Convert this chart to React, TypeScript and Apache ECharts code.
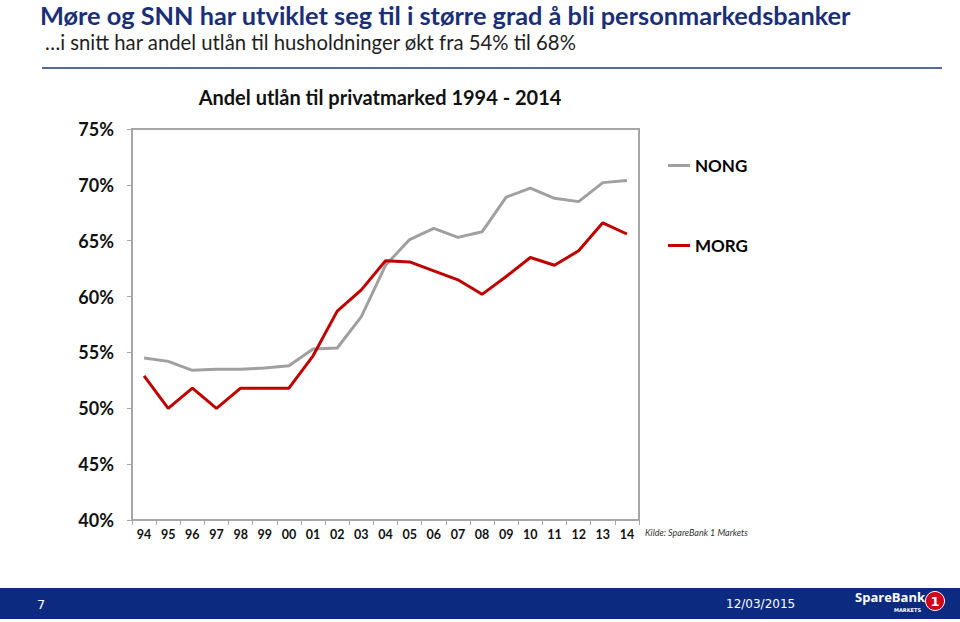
import React, { useEffect, useRef } from "react";
import * as echarts from "echarts";

const years = ["94", "95", "96", "97", "98", "99", "00", "01", "02", "03", "04", "05", "06", "07", "08", "09", "10", "11", "12", "13", "14"];
const nong = [54.5, 54.2, 53.4, 53.5, 53.5, 53.6, 53.8, 55.3, 55.4, 58.2, 62.8, 65.1, 66.1, 65.3, 65.8, 68.9, 69.7, 68.8, 68.5, 70.2, 70.4];
const morg = [52.9, 50.0, 51.8, 50.0, 51.8, 51.8, 51.8, 54.7, 58.7, 60.6, 63.2, 63.1, 62.3, 61.5, 60.2, 61.8, 63.5, 62.8, 64.1, 66.6, 65.6];
const yTicks = [40, 45, 50, 55, 60, 65, 70, 75];

const FONT = "Lato, 'Open Sans', sans-serif";
const NAVY = "#0c2b80";

export default function App() {
  const ref = useRef<HTMLDivElement>(null);
  useEffect(() => {
    if (!ref.current) return;
    const chart = echarts.init(ref.current, undefined, { renderer: "svg" });
    chart.setOption({
      animation: false,
      backgroundColor: "#ffffff",
      textStyle: { fontFamily: FONT },
      grid: {
        left: 132,
        top: 129,
        width: 507,
        height: 391,
        show: true,
        borderColor: "#a6a6a6",
        borderWidth: 2,
        containLabel: false,
      },
      xAxis: {
        type: "category",
        data: years,
        boundaryGap: true,
        axisLine: { lineStyle: { color: "#a6a6a6", width: 2 } },
        axisTick: { show: true, length: 5, lineStyle: { color: "#a6a6a6" } },
        axisLabel: { interval: 0, margin: 8, fontSize: 12.5, fontWeight: "bold", color: "#111", fontFamily: FONT },
        splitLine: { show: false },
      },
      yAxis: {
        type: "value",
        min: yTicks[0],
        max: yTicks[yTicks.length - 1],
        interval: 5,
        axisLine: { show: true, lineStyle: { color: "#a6a6a6", width: 2 } },
        axisTick: { show: true, length: 5, lineStyle: { color: "#a6a6a6" } },
        axisLabel: { formatter: "{value}%", margin: 18, fontSize: 18, fontWeight: "bold", color: "#111", fontFamily: FONT },
        splitLine: { show: false },
      },
      legend: {
        orient: "vertical",
        left: 668,
        top: 157,
        padding: 0,
        itemWidth: 22,
        itemHeight: 3,
        itemGap: 63,
        icon: "rect",
        data: [
          { name: "NONG", itemStyle: { color: "#a0a0a0" } },
          { name: "MORG", itemStyle: { color: "#c00000" } },
        ],
        textStyle: { fontSize: 17, fontWeight: "bold", color: "#000", fontFamily: FONT },
      },
      series: [
        {
          name: "NONG",
          type: "line",
          data: nong,
          symbol: "none",
          lineStyle: { color: "#a0a0a0", width: 3 },
          itemStyle: { color: "#a0a0a0" },
        },
        {
          name: "MORG",
          type: "line",
          data: morg,
          symbol: "none",
          lineStyle: { color: "#c00000", width: 3 },
          itemStyle: { color: "#c00000" },
        },
      ],
      graphic: [
        {
          type: "text",
          x: 40,
          y: 14.5,
          style: { text: "Møre og SNN har utviklet seg til i større grad å bli personmarkedsbanker", font: `bold 25.3px ${FONT}`, fill: "#1a2f78", verticalAlign: "middle", align: "left" },
        },
        {
          type: "text",
          x: 45,
          y: 42,
          style: { text: "…i snitt har andel utlån til husholdninger økt fra 54% til 68%", font: `20.3px ${FONT}`, fill: "#1e1e1e", verticalAlign: "middle", align: "left" },
        },
        {
          type: "line",
          shape: { x1: 42, y1: 68, x2: 942, y2: 68 },
          style: { stroke: "#1f3a7a", lineWidth: 1.5 },
        },
        {
          type: "text",
          x: 380,
          y: 97,
          style: { text: "Andel utlån til privatmarked 1994 - 2014", font: `bold 20px ${FONT}`, fill: "#111", verticalAlign: "middle", align: "center" },
        },
        {
          type: "text",
          x: 645,
          y: 532,
          style: { text: "Kilde: SpareBank 1 Markets", font: `italic 9px ${FONT}`, fill: "#333", verticalAlign: "middle", align: "left" },
        },
        {
          type: "rect",
          shape: { x: 0, y: 588, width: 960, height: 31 },
          style: { fill: NAVY },
        },
        {
          type: "text",
          x: 37,
          y: 604,
          style: { text: "7", font: `13px 'DejaVu Sans', sans-serif`, fill: "#ffffff", verticalAlign: "middle", align: "left" },
        },
        {
          type: "text",
          x: 726,
          y: 604,
          style: { text: "12/03/2015", font: `12px 'DejaVu Sans', sans-serif`, fill: "#ffffff", verticalAlign: "middle", align: "left" },
        },
        {
          type: "text",
          x: 855,
          y: 597,
          style: { text: "SpareBank", font: `bold 13px 'Open Sans', sans-serif`, fill: "#ffffff", verticalAlign: "middle", align: "left" },
        },
        {
          type: "text",
          x: 921,
          y: 610,
          style: { text: "MARKETS", font: `bold 5px 'DejaVu Sans', sans-serif`, fill: "#ffffff", verticalAlign: "middle", align: "right" },
        },
        {
          type: "circle",
          shape: { cx: 935, cy: 601, r: 9.5 },
          style: { fill: "#d0021b", stroke: "#ffffff", lineWidth: 1 },
        },
        {
          type: "text",
          x: 935,
          y: 601,
          style: { text: "1", font: `bold 13px 'DejaVu Sans', sans-serif`, fill: "#ffffff", verticalAlign: "middle", align: "center" },
        },
      ],
    });
    return () => chart.dispose();
  }, []);
  return <div ref={ref} style={{ position: "fixed", left: 0, top: 0, width: 960, height: 622 }} />;
}
